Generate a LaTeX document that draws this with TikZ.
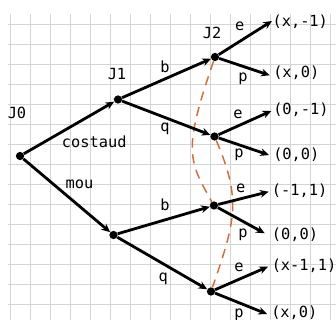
\documentclass[tikz,border=0pt]{standalone}
\usepackage{fontspec}
\setmainfont{DejaVu Sans Mono}
\usetikzlibrary{arrows.meta}
\definecolor{gridc}{RGB}{212,212,212}
\definecolor{dashc}{RGB}{208,110,60}
\tikzset{
  gridline/.style={draw=gridc, line width=1.1pt},
  dot/.style={circle, fill=black, inner sep=0pt, minimum size=6.2pt},
  lbl/.style={inner sep=0pt, font=\fontsize{11.5}{13}\selectfont},
  pay/.style={lbl, anchor=west},
  edge/.style={line width=2.1pt, -{Stealth[length=6.5pt,width=5.8pt]}},
  info/.style={draw=dashc, line width=1.1pt, dash pattern=on 7pt off 5pt}
}
\begin{document}
\begin{tikzpicture}[x=0.75pt,y=-0.75pt]
\useasboundingbox (0,0) rectangle (336,320);
% grid
\foreach \i in {0,...,16} \draw[gridline] (10.7+20*\i,14) -- (10.7+20*\i,320);
\foreach \j in {0,...,14} \draw[gridline] (8,24.5+20*\j) -- (336,24.5+20*\j);
% decision nodes
\node[dot] (J0) at (20,156) {};
\node[dot] (A) at (118,99.5) {};
\node[dot] (B) at (113.5,235) {};
\node[dot] (C) at (215,57) {};
\node[dot] (D) at (214.5,136.5) {};
\node[dot] (E) at (214,205.5) {};
\node[dot] (F) at (211,291.5) {};
% player labels
\node[lbl] (lJ0) at (17,113) {J0};
\node[lbl] (lJ1) at (117,74) {J1};
\node[lbl] (lJ2) at (212,33) {J2};
% information sets
\draw[info] (C) .. controls (183,150) and (188,160) .. (E);
\draw[info] (D) .. controls (242,200) and (235,222) .. (F);
% first moves
\draw[edge] (J0) -- (A);
\draw[edge] (J0) -- (B);
\node[lbl] (costaud) at (94.2,141.7) {costaud};
\node[lbl] (mou) at (79.5,184) {mou};
% second moves
\draw[edge] (A) -- (C);
\draw[edge] (A) -- (D);
\draw[edge] (B) -- (E);
\draw[edge] (B) -- (F);
\node[lbl] (bA) at (165,67) {b};
\node[lbl] (qA) at (165,129.3) {q};
\node[lbl] (bB) at (165,205) {b};
\node[lbl] (qB) at (163.3,279.3) {q};
% terminal ends
\coordinate (c1) at (272,21);
\coordinate (c2) at (269.7,75.3);
\coordinate (d1) at (271.3,111);
\coordinate (d2) at (269,155);
\coordinate (e1) at (268.7,191.7);
\coordinate (e2) at (264.7,233.3);
\coordinate (f1) at (268,266.7);
\coordinate (f2) at (267,314);
\draw[edge] (C) -- (c1);
\draw[edge] (C) -- (c2);
\draw[edge] (D) -- (d1);
\draw[edge] (D) -- (d2);
\draw[edge] (E) -- (e1);
\draw[edge] (E) -- (e2);
\draw[edge] (F) -- (f1);
\draw[edge] (F) -- (f2);
% move labels of J2
\node[lbl] (eC) at (239.7,26.7) {e};
\node[lbl] (pC) at (243,78.7) {p};
\node[lbl] (eD) at (238,114.3) {e};
\node[lbl] (pD) at (239,155) {p};
\node[lbl] (eE) at (240.7,188.3) {e};
\node[lbl] (pE) at (243,235) {p};
\node[lbl] (eF) at (239,267.3) {e};
\node[lbl] (pF) at (239,315) {p};
% payoffs
\node[pay] (t1) at (272.3,21.5) {(x,-1)};
\node[pay] (t2) at (273,72.7) {(x,0)};
\node[pay] (t3) at (273,110) {(0,-1)};
\node[pay] (t4) at (273,155) {(0,0)};
\node[pay] (t5) at (271.7,190.7) {(-1,1)};
\node[pay] (t6) at (271.7,235) {(0,0)};
\node[pay] (t7) at (271.5,266) {(x-1,1)};
\node[pay] (t8) at (271,313) {(x,0)};
\end{tikzpicture}
\end{document}
